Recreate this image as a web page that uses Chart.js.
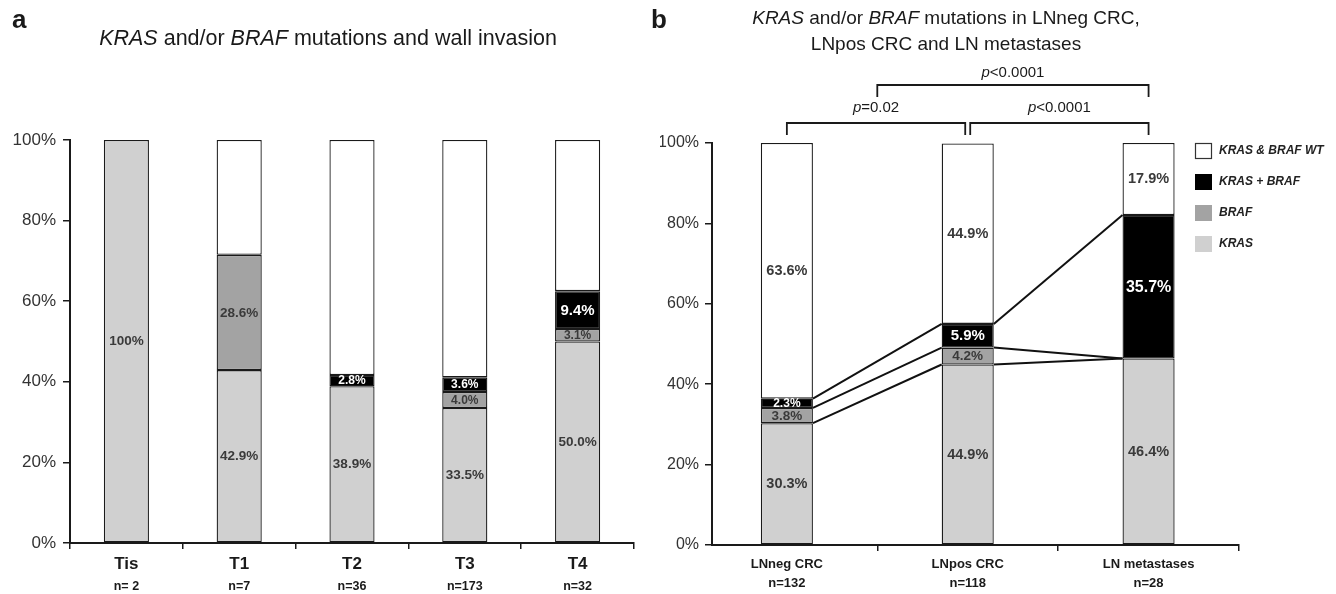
<!DOCTYPE html>
<html><head><meta charset="utf-8">
<script src="https://cdn.jsdelivr.net/npm/chart.js@4"></script>
<style>
html,body{margin:0;padding:0;background:#fff;}
#wrap{position:relative;width:1336px;height:594px;overflow:hidden;font-family:"Liberation Sans",Arial,sans-serif;color:#1a1a1a}
canvas{position:absolute;top:0}
#ca{left:0}
#cb{left:660px}
.plab{position:absolute;font-weight:bold;font-size:26px;line-height:26px}
.ttl{position:absolute;line-height:26px;text-align:center;white-space:nowrap;transform:translateX(-50%)}
</style></head>
<body><div id="wrap">
<canvas id="ca" width="660" height="594"></canvas>
<canvas id="cb" width="676" height="594"></canvas>
<div class="plab" style="left:12px;top:6px">a</div>
<div class="plab" style="left:651px;top:6px">b</div>
<div class="ttl" style="left:328px;top:25px;font-size:21.5px"><i>KRAS</i> and/or <i>BRAF</i> mutations and wall invasion</div>
<div class="ttl" style="left:946px;top:5px;font-size:19px"><i>KRAS</i> and/or <i>BRAF</i> mutations in LNneg CRC,<br>LNpos CRC and LN metastases</div>
</div>
<script>
// ---------- data ----------
const seriesNames = ['KRAS', 'BRAF', 'KRAS + BRAF', 'KRAS & BRAF WT'];

const catA = ['Tis', 'T1', 'T2', 'T3', 'T4'];
const nA = ['n= 2', 'n=7', 'n=36', 'n=173', 'n=32'];
const krasA = [100, 42.9, 38.9, 33.5, 50.0];
const brafA = [0, 28.6, 0, 4.0, 3.1];
const bothA = [0, 0, 2.8, 3.6, 9.4];
const wtA = [0, 28.5, 58.3, 58.9, 37.5];

const catB = ['LNneg CRC', 'LNpos CRC', 'LN metastases'];
const nB = ['n=132', 'n=118', 'n=28'];
const krasB = [30.3, 44.9, 46.4];
const brafB = [3.8, 4.2, 0];
const bothB = [2.3, 5.9, 35.7];
const wtB = [63.6, 44.9, 17.9];

const pValues = ['p=0.02', 'p<0.0001', 'p<0.0001'];
const yTickStep = 20;

// ---------- helpers ----------
const FAM = '"Liberation Sans", Arial, sans-serif';
const fills = ['#d0d0d0', '#a3a3a3', '#000000', '#ffffff'];

function makeDatasets(series) {
  return series.map((d, i) => ({
    label: seriesNames[i],
    data: d,
    backgroundColor: fills[i],
    borderColor: '#1a1a1a',
    borderWidth: c => (c.raw ? 1.3 : 0),
    borderSkipped: false,
    inflateAmount: 0
  }));
}

function segLabels(opts) {
  return {
    id: 'segLabels',
    afterDatasetsDraw(chart) {
      const ctx = chart.ctx;
      ctx.save();
      ctx.textAlign = 'center';
      ctx.textBaseline = 'middle';
      chart.data.datasets.forEach((ds, di) => {
        if (di === 3 && !opts.wt) return;
        const meta = chart.getDatasetMeta(di);
        meta.data.forEach((el, i) => {
          const v = ds.data[i];
          if (!v) return;
          const h = Math.abs(el.base - el.y);
          const txt = v === 100 ? '100%' : v.toFixed(1) + '%';
          let size;
          if (di === 2) size = h < 18 ? 12 : (h > 60 ? 16 : 15);
          else size = h < 18 ? opts.small : opts.base;
          ctx.font = 'bold ' + size + 'px ' + FAM;
          ctx.fillStyle = di === 2 ? '#ffffff' : '#3a3a3a';
          ctx.fillText(txt, el.x, (el.y + el.base) / 2 + 0.5);
        });
      });
      ctx.restore();
    }
  };
}

function axisCommon() {
  return {
    grid: { drawOnChartArea: false, color: '#1a1a1a', lineWidth: 1.5, tickLength: 7 },
    border: { color: '#1a1a1a', width: 2 }
  };
}

// ---------- panel a ----------
const nLabelsA = {
  id: 'nLabelsA',
  afterDraw(chart) {
    const ctx = chart.ctx, xs = chart.scales.x;
    ctx.save();
    ctx.font = 'bold 12.5px ' + FAM;
    ctx.fillStyle = '#1a1a1a';
    ctx.textAlign = 'center';
    ctx.textBaseline = 'middle';
    nA.forEach((t, i) => ctx.fillText(t, xs.getPixelForValue(i), chart.chartArea.bottom + 44));
    ctx.restore();
  }
};

new Chart(document.getElementById('ca'), {
  type: 'bar',
  data: { labels: catA, datasets: makeDatasets([krasA, brafA, bothA, wtA]) },
  options: {
    responsive: false, animation: false,
    layout: { padding: { top: 140, right: 26, left: 0, bottom: 0 } },
    plugins: { legend: { display: false }, tooltip: { enabled: false } },
    datasets: { bar: { barPercentage: 0.4, categoryPercentage: 1 } },
    scales: {
      x: Object.assign(axisCommon(), {
        stacked: true, offset: true,
        grid: { offset: true, drawOnChartArea: false, color: '#1a1a1a', lineWidth: 1.5, tickLength: 6 },
        ticks: { font: { size: 17, weight: 'bold', family: FAM }, color: '#1a1a1a', padding: 5, maxRotation: 0 },
        afterFit: s => { s.height = 51; }
      }),
      y: Object.assign(axisCommon(), {
        stacked: true, min: 0, max: 100,
        ticks: { stepSize: yTickStep, callback: v => v + '%', font: { size: 17, family: FAM }, color: '#333', padding: 7 },
        afterFit: s => { s.width = 70; }
      })
    }
  },
  plugins: [segLabels({ wt: false, base: 13.5, small: 12 }), nLabelsA]
});

// ---------- panel b ----------
const connectors = {
  id: 'connectors',
  afterDatasetsDraw(chart) {
    const ctx = chart.ctx;
    ctx.save();
    ctx.strokeStyle = '#111';
    ctx.lineWidth = 2;
    for (let k = 0; k < 3; k++) {
      const els = chart.getDatasetMeta(k).data;
      for (let i = 0; i < els.length - 1; i++) {
        const a = els[i], b = els[i + 1];
        ctx.beginPath();
        ctx.moveTo(a.x + a.width / 2, a.y);
        ctx.lineTo(b.x - b.width / 2, b.y);
        ctx.stroke();
      }
    }
    ctx.restore();
  }
};

function drawP(ctx, txt, cx, cy) {
  ctx.font = 'italic 15px ' + FAM;
  const w1 = ctx.measureText(txt[0]).width;
  ctx.font = '15px ' + FAM;
  const w2 = ctx.measureText(txt.slice(1)).width;
  const x0 = cx - (w1 + w2) / 2;
  ctx.textAlign = 'left';
  ctx.textBaseline = 'middle';
  ctx.font = 'italic 15px ' + FAM;
  ctx.fillText(txt[0], x0, cy);
  ctx.font = '15px ' + FAM;
  ctx.fillText(txt.slice(1), x0 + w1, cy);
}

const brackets = {
  id: 'brackets',
  afterDraw(chart) {
    const ctx = chart.ctx, xs = chart.scales.x, top = chart.chartArea.top;
    const c0 = xs.getPixelForValue(0), c1 = xs.getPixelForValue(1), c2 = xs.getPixelForValue(2);
    const m01 = xs.getPixelForValue(0.5);
    ctx.save();
    ctx.strokeStyle = '#1a1a1a';
    ctx.fillStyle = '#1a1a1a';
    ctx.lineWidth = 1.8;
    const br = (x1, x2, y, yEnd, label, ty) => {
      ctx.beginPath();
      ctx.moveTo(x1, yEnd); ctx.lineTo(x1, y); ctx.lineTo(x2, y); ctx.lineTo(x2, yEnd);
      ctx.stroke();
      drawP(ctx, label, (x1 + x2) / 2, ty);
    };
    br(c0, c1 - 2.5, top - 20, top - 8, pValues[0], top - 35);
    br(c1 + 2.5, c2, top - 20, top - 8, pValues[1], top - 35);
    br(m01, c2, top - 58, top - 46, pValues[2], top - 70);
    ctx.restore();
  }
};

const legendB = {
  id: 'legendB',
  afterDraw(chart) {
    const ctx = chart.ctx;
    const x = chart.chartArea.right - 44, y0 = chart.chartArea.top + 8;
    ctx.save();
    const order = [3, 2, 1, 0];
    order.forEach((di, r) => {
      const ds = chart.data.datasets[di];
      const cy = y0 + r * 31;
      ctx.fillStyle = ds.backgroundColor;
      ctx.fillRect(x, cy - 8, 17, 16);
      if (di === 3) {
        ctx.strokeStyle = '#333';
        ctx.lineWidth = 1.2;
        ctx.strokeRect(x + 0.5, cy - 7.5, 16, 15);
      }
      ctx.fillStyle = '#222';
      ctx.font = 'italic bold 12px ' + FAM;
      ctx.textAlign = 'left';
      ctx.textBaseline = 'middle';
      ctx.fillText(ds.label, x + 24, cy);
    });
    ctx.restore();
  }
};

new Chart(document.getElementById('cb'), {
  type: 'bar',
  data: { labels: catB, datasets: makeDatasets([krasB, brafB, bothB, wtB]) },
  options: {
    responsive: false, animation: false,
    layout: { padding: { top: 143, right: 97, left: 0, bottom: 0 } },
    plugins: { legend: { display: false }, tooltip: { enabled: false } },
    datasets: { bar: { barPercentage: 0.288, categoryPercentage: 1 } },
    scales: {
      x: Object.assign(axisCommon(), {
        stacked: true, offset: true,
        grid: { offset: true, drawOnChartArea: false, color: '#1a1a1a', lineWidth: 1.5, tickLength: 6 },
        ticks: {
          callback: (v, i) => [catB[i], nB[i]],
          font: { size: 13, weight: 'bold', family: FAM, lineHeight: 1.45 },
          color: '#1a1a1a', padding: 4, maxRotation: 0
        },
        afterBuildTicks: s => {
          s._startValue = -0.414;
          s._valueRange = (s.max + 0.5) - s._startValue;
        },
        afterFit: s => { s.height = 49; }
      }),
      y: Object.assign(axisCommon(), {
        stacked: true, min: 0, max: 100,
        ticks: { stepSize: yTickStep, callback: v => v + '%', font: { size: 16, family: FAM }, color: '#333', padding: 6 },
        afterFit: s => { s.width = 52; }
      })
    }
  },
  plugins: [connectors, segLabels({ wt: true, base: 14.5, small: 13.5 }), brackets, legendB]
});
</script>
</body></html>
